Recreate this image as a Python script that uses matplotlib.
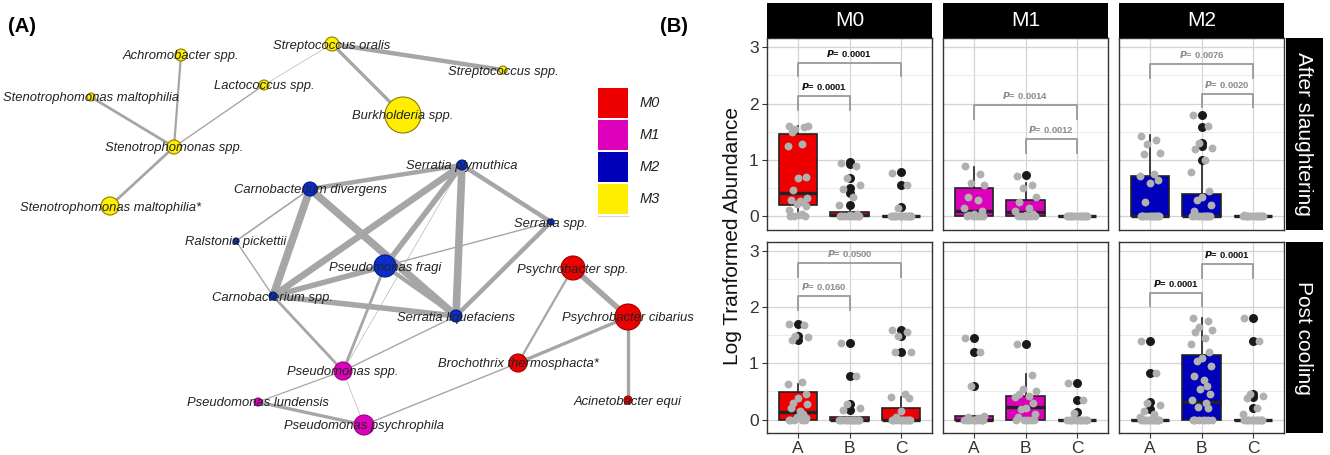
import matplotlib
matplotlib.use("Agg")
import matplotlib.pyplot as plt
from matplotlib.patches import Circle, Rectangle

plt.rcParams['font.family'] = ['Liberation Sans', 'DejaVu Sans']

# ---------------- (A) network data ----------------
node_names = ["Achromobacter spp.", "Streptococcus oralis", "Streptococcus spp.",
              "Lactococcus spp.", "Stenotrophomonas maltophilia", "Burkholderia spp.",
              "Stenotrophomonas spp.", "Stenotrophomonas maltophilia*",
              "Serratia plymuthica", "Carnobacterium divergens", "Serratia spp.",
              "Ralstonia pickettii", "Pseudomonas fragi", "Carnobacterium spp.",
              "Serratia liquefaciens",
              "Pseudomonas spp.", "Pseudomonas lundensis", "Pseudomonas psychrophila",
              "Psychrobacter spp.", "Psychrobacter cibarius", "Brochothrix thermosphacta*",
              "Acinetobacter equi"]
node_x = [181, 332, 503, 264, 91, 403, 174, 110,
          462, 310, 551, 236, 385, 273, 456,
          343, 258, 364,
          573, 628, 518, 628]
node_y = [55, 44, 70, 85, 97, 115, 147, 206,
          165, 189, 222, 241, 266, 296, 316,
          371, 402, 425,
          268, 317, 363, 400]
node_r = [6, 7, 4, 5, 4, 18, 7, 9,
          5, 7, 3, 3, 11, 4, 6,
          9, 4, 10,
          12, 13, 9, 4]
node_mod = ["M3", "M3", "M3", "M3", "M3", "M3", "M3", "M3",
            "M2", "M2", "M2", "M2", "M2", "M2", "M2",
            "M1", "M1", "M1",
            "M0", "M0", "M0", "M0"]

edge_a = ["Achromobacter spp.", "Stenotrophomonas maltophilia", "Lactococcus spp.",
          "Lactococcus spp.", "Stenotrophomonas spp.", "Streptococcus oralis",
          "Streptococcus oralis",
          "Carnobacterium divergens", "Carnobacterium divergens", "Carnobacterium divergens",
          "Carnobacterium divergens", "Serratia plymuthica", "Serratia plymuthica",
          "Serratia plymuthica", "Serratia plymuthica", "Serratia plymuthica",
          "Serratia spp.", "Serratia spp.", "Ralstonia pickettii",
          "Carnobacterium spp.", "Carnobacterium spp.", "Carnobacterium spp.",
          "Pseudomonas fragi", "Pseudomonas fragi", "Serratia liquefaciens",
          "Pseudomonas spp.", "Pseudomonas spp.", "Pseudomonas lundensis",
          "Pseudomonas psychrophila", "Brochothrix thermosphacta*",
          "Brochothrix thermosphacta*", "Psychrobacter spp.", "Psychrobacter cibarius"]
edge_b = ["Stenotrophomonas spp.", "Stenotrophomonas spp.", "Stenotrophomonas spp.",
          "Streptococcus oralis", "Stenotrophomonas maltophilia*", "Streptococcus spp.",
          "Burkholderia spp.",
          "Serratia plymuthica", "Carnobacterium spp.", "Serratia liquefaciens",
          "Ralstonia pickettii", "Carnobacterium spp.", "Pseudomonas fragi",
          "Serratia liquefaciens", "Serratia spp.", "Pseudomonas spp.",
          "Serratia liquefaciens", "Pseudomonas fragi", "Carnobacterium spp.",
          "Pseudomonas fragi", "Serratia liquefaciens", "Pseudomonas spp.",
          "Pseudomonas spp.", "Serratia liquefaciens", "Pseudomonas spp.",
          "Pseudomonas lundensis", "Pseudomonas psychrophila", "Pseudomonas psychrophila",
          "Brochothrix thermosphacta*", "Psychrobacter spp.",
          "Psychrobacter cibarius", "Psychrobacter cibarius", "Acinetobacter equi"]
edge_w = [1.6, 2.0, 1.0,
          0.4, 2.0, 3.2,
          2.4,
          3.2, 5.5, 5.5,
          1.2, 4.8, 4.0,
          5.5, 3.2, 0.4,
          3.2, 1.0, 1.0,
          4.0, 4.0, 2.0,
          2.0, 3.0, 1.0,
          0.9, 0.4, 2.4,
          1.0, 1.6,
          2.4, 4.0, 2.4]

modules = ["M0", "M1", "M2", "M3"]
mod_colors = {"M0": "#ee0000", "M1": "#dd00bb", "M2": "#0a2ecc", "M3": "#ffee00"}
mod_edges = {"M0": "#990000", "M1": "#990080", "M2": "#001a80", "M3": "#8a7d00"}
legend_colors = {"M0": "#ee0000", "M1": "#dd00bb", "M2": "#0000b8", "M3": "#ffee00"}

# ---------------- (B) boxplot data ----------------
facets = ["M0", "M1", "M2"]
row_labels = ["After slaughtering", "Post cooling"]
groups = ["A", "B", "C"]
box_colors = {"M0": "#ee0000", "M1": "#dd00bb", "M2": "#0000bb"}

# box stats per group: (q1, median, q3, whisker low, whisker high)
as_m0_box = [(0.21, 0.41, 1.46, 0.05, 1.60), (0.0, 0.03, 0.08, 0.0, 0.12), (0, 0, 0, 0, 0)]
as_m0_out = [[], [0.97, 0.93, 0.68, 0.50, 0.42, 0.20], [0.78, 0.55, 0.17]]
as_m0_pts = [[1.60, 1.58, 1.55, 1.60, 1.50, 1.28, 1.25, 0.70, 0.68, 0.47, 0.32, 0.30,
              0.28, 0.26, 0.22, 0.18, 0.12, 0.05, 0.0, 0.0, 0.0, 0.02],
             [0.95, 0.90, 0.68, 0.55, 0.48, 0.35, 0.20, 0.05, 0.02, 0.0, 0.0, 0.0,
              0.0, 0.0, 0.0, 0.0, 0.0],
             [0.77, 0.55, 0.15, 0.0, 0.0, 0.0, 0.0, 0.0, 0.0, 0.0, 0.0, 0.0, 0.0, 0.0,
              0.0, 0.0, 0.0]]

as_m1_box = [(0.0, 0.10, 0.51, 0.0, 0.88), (0.0, 0.07, 0.30, 0.0, 0.60), (0, 0, 0, 0, 0)]
as_m1_out = [[], [0.73], []]
as_m1_pts = [[0.90, 0.75, 0.60, 0.55, 0.35, 0.30, 0.15, 0.10, 0.05, 0.02, 0.0, 0.0,
              0.0, 0.0, 0.0],
             [0.72, 0.55, 0.50, 0.35, 0.25, 0.15, 0.10, 0.05, 0.02, 0.0, 0.0, 0.0,
              0.0, 0.0, 0.0],
             [0.0, 0.0, 0.0, 0.0, 0.0, 0.0, 0.0, 0.0, 0.0, 0.0, 0.0, 0.0, 0.0, 0.0]]

as_m2_box = [(0.0, 0.0, 0.72, 0.0, 1.45), (0.0, 0.0, 0.39, 0.0, 0.95), (0, 0, 0, 0, 0)]
as_m2_out = [[], [1.80, 1.58, 1.30, 1.25, 1.00], []]
as_m2_pts = [[1.43, 1.35, 1.28, 1.12, 1.10, 0.75, 0.72, 0.65, 0.60, 0.25, 0.0, 0.0,
              0.0, 0.0, 0.0, 0.0, 0.0, 0.0, 0.0, 0.0, 0.0, 0.0],
             [1.80, 1.60, 1.30, 1.22, 1.20, 1.00, 0.78, 0.45, 0.35, 0.30, 0.20, 0.10,
              0.0, 0.0, 0.0, 0.0, 0.0, 0.0, 0.0, 0.0, 0.0, 0.0],
             [0.03, 0.0, 0.0, 0.0, 0.0, 0.0, 0.0, 0.0, 0.0, 0.0, 0.0, 0.0, 0.0, 0.0]]

pc_m0_box = [(0.0, 0.13, 0.49, 0.0, 0.63), (0.0, 0.0, 0.05, 0.0, 0.05), (0.0, 0.0, 0.20, 0.0, 0.40)]
pc_m0_out = [[1.70, 1.48, 1.42], [1.37, 0.77, 0.28, 0.17], [1.60, 1.48, 1.20]]
pc_m0_pts = [[1.70, 1.68, 1.48, 1.47, 1.42, 0.67, 0.63, 0.45, 0.38, 0.30, 0.28, 0.20,
              0.15, 0.10, 0.05, 0.03, 0.0, 0.0, 0.0, 0.0, 0.0],
             [1.37, 0.77, 0.27, 0.20, 0.17, 0.0, 0.0, 0.0, 0.0, 0.0, 0.0, 0.0, 0.0,
              0.0, 0.0, 0.0, 0.0, 0.0, 0.0],
             [1.60, 1.55, 1.48, 1.20, 1.20, 0.45, 0.40, 0.38, 0.15, 0.05, 0.0, 0.0,
              0.0, 0.0, 0.0, 0.0, 0.0, 0.0, 0.0, 0.0, 0.0, 0.0]]

pc_m1_box = [(0.0, 0.0, 0.06, 0.0, 0.07), (0.0, 0.22, 0.41, 0.0, 0.81), (0, 0, 0, 0, 0)]
pc_m1_out = [[1.45, 1.21, 0.59], [1.35], [0.65, 0.34, 0.13]]
pc_m1_pts = [[1.45, 1.20, 0.60, 0.07, 0.05, 0.03, 0.0, 0.0, 0.0, 0.0, 0.0, 0.0, 0.0,
              0.0, 0.0, 0.0],
             [1.35, 0.80, 0.55, 0.50, 0.45, 0.42, 0.40, 0.30, 0.20, 0.18, 0.10, 0.05,
              0.0, 0.0, 0.0, 0.0, 0.0],
             [0.65, 0.35, 0.12, 0.0, 0.0, 0.0, 0.0, 0.0, 0.0, 0.0, 0.0, 0.0, 0.0, 0.0,
              0.0]]

pc_m2_box = [(0, 0, 0, 0, 0), (0.0, 0.31, 1.14, 0.0, 1.80), (0, 0, 0, 0, 0)]
pc_m2_out = [[1.40, 0.83, 0.31, 0.18], [], [1.80, 1.40, 0.45, 0.40, 0.20]]
pc_m2_pts = [[1.40, 0.83, 0.30, 0.25, 0.15, 0.10, 0.05, 0.0, 0.0, 0.0, 0.0, 0.0, 0.0,
              0.0, 0.0, 0.0, 0.0, 0.0, 0.0],
             [1.80, 1.75, 1.65, 1.60, 1.55, 1.45, 1.35, 1.20, 1.10, 1.05, 0.95, 0.78,
              0.70, 0.60, 0.55, 0.45, 0.35, 0.30, 0.22, 0.20, 0.0, 0.0, 0.0, 0.0, 0.0,
              0.0, 0.0, 0.0],
             [1.80, 1.40, 0.45, 0.42, 0.38, 0.20, 0.10, 0.0, 0.0, 0.0, 0.0, 0.0, 0.0,
              0.0, 0.0, 0.0, 0.0, 0.0, 0.0]]

# p-value brackets: (group 1, group 2, bracket height, p, significant)
as_m0_pv = [("A", "B", 2.13, "0.0001", True), ("A", "C", 2.72, "0.0001", True)]
as_m1_pv = [("A", "C", 1.97, "0.0014", False), ("B", "C", 1.37, "0.0012", False)]
as_m2_pv = [("A", "C", 2.70, "0.0076", False), ("B", "C", 2.17, "0.0020", False)]
pc_m0_pv = [("A", "B", 2.19, "0.0160", False), ("A", "C", 2.78, "0.0500", False)]
pc_m1_pv = []
pc_m2_pv = [("A", "B", 2.26, "0.0001", True), ("B", "C", 2.76, "0.0001", True)]

panel_box = [[as_m0_box, as_m1_box, as_m2_box], [pc_m0_box, pc_m1_box, pc_m2_box]]
panel_out = [[as_m0_out, as_m1_out, as_m2_out], [pc_m0_out, pc_m1_out, pc_m2_out]]
panel_pts = [[as_m0_pts, as_m1_pts, as_m2_pts], [pc_m0_pts, pc_m1_pts, pc_m2_pts]]
panel_pv = [[as_m0_pv, as_m1_pv, as_m2_pv], [pc_m0_pv, pc_m1_pv, pc_m2_pv]]

# fixed jitter pattern for the grey points
jit = [-0.17, 0.12, -0.05, 0.20, -0.12, 0.07, -0.20, 0.15, 0.0, -0.09, 0.18, -0.14,
       0.04, 0.10, -0.02, 0.16, -0.18, 0.08, -0.07, 0.13, -0.15, 0.02]

W, H = 1330, 455
fig = plt.figure(figsize=(W / 100, H / 100), dpi=100)


def frect(x0, y0, x1, y1):
    return [x0 / W, 1 - y1 / H, (x1 - x0) / W, (y1 - y0) / H]


# ---------------- (A) ----------------
axA = fig.add_axes([0, 0, 660 / W, 1])
axA.set_xlim(0, 660)
axA.set_ylim(455, 0)
axA.axis('off')

pos = {n: (x, y) for n, x, y in zip(node_names, node_x, node_y)}
for a, b, w in zip(edge_a, edge_b, edge_w):
    (x1, y1), (x2, y2) = pos[a], pos[b]
    axA.plot([x1, x2], [y1, y2], color='#a6a6a6', lw=w, solid_capstyle='butt', zorder=1)
for n, x, y, r, m in zip(node_names, node_x, node_y, node_r, node_mod):
    axA.add_patch(Circle((x, y), r, fc=mod_colors[m], ec=mod_edges[m], lw=0.8, zorder=2))
    axA.text(x, y + 1.5, n, style='italic', fontsize=9.4, color='#222222',
             ha='center', va='center', zorder=3)

for i, m in enumerate(modules):
    y0 = 88 + i * 32
    axA.add_patch(Rectangle((598, y0), 30, 30, fc=legend_colors[m], ec='none', zorder=2))
    axA.text(640, y0 + 15, m, style='italic', fontsize=10.5, color='#222222',
             ha='left', va='center')
axA.plot([598, 628], [216, 216], color='#e0d0d8', lw=0.8)

fig.text(8 / W, 1 - 26 / H, "(A)", fontsize=14.5, fontweight='bold', va='center')
fig.text(660 / W, 1 - 26 / H, "(B)", fontsize=14.5, fontweight='bold', va='center')

# ---------------- (B) ----------------
col_x = [(767, 932), (943, 1108), (1119, 1284)]
row_y = [(38, 230), (242, 433)]

for r in range(2):
    for c in range(3):
        f = facets[c]
        ax = fig.add_axes(frect(col_x[c][0], row_y[r][0], col_x[c][1], row_y[r][1]))
        stats = []
        for g, (q1, med, q3, lo, hi) in zip(groups, panel_box[r][c]):
            stats.append(dict(label=g, q1=q1, med=med, q3=q3, whislo=lo, whishi=hi, fliers=[]))
        ax.bxp(stats, positions=[0, 1, 2], widths=0.75, patch_artist=True,
               showfliers=False, showcaps=False,
               boxprops=dict(facecolor=box_colors[f], edgecolor='#222222', lw=1.2),
               medianprops=dict(color='#222222', lw=2.4, solid_capstyle='butt'),
               whiskerprops=dict(color='#222222', lw=1.2), zorder=2)
        for i in range(3):
            out = panel_out[r][c][i]
            ax.scatter([i] * len(out), out, s=42, color='#1a1a1a', lw=0, zorder=3)
            pts = panel_pts[r][c][i]
            xs = [i + jit[k % len(jit)] for k in range(len(pts))]
            ax.scatter(xs, pts, s=32, color='#b0b0b0', lw=0, zorder=4)
        for g1, g2, yb, p, sig in panel_pv[r][c]:
            x1, x2 = groups.index(g1), groups.index(g2)
            ax.plot([x1, x1, x2, x2], [yb - 0.24, yb, yb, yb - 0.24], color='#999999',
                    lw=1.3, zorder=5)
            ax.text((x1 + x2) / 2, yb + 0.17, r"$\mathbfit{P}$= " + p, fontsize=6.8,
                    fontweight='bold', color='#111111' if sig else '#8c8c8c',
                    ha='center', va='center', zorder=5)
        ax.set_xlim(-0.6, 2.6)
        ax.set_ylim(-0.24, 3.16)
        ax.set_xticks([0, 1, 2])
        ax.set_xticklabels(groups)
        ax.set_yticks([0, 1, 2, 3])
        ax.set_yticks([0.5, 1.5, 2.5], minor=True)
        ax.grid(which='major', color='#d4d4d4', lw=0.9)
        ax.grid(which='minor', axis='y', color='#e6e6e6', lw=0.6)
        ax.set_axisbelow(True)
        for s in ax.spines.values():
            s.set_color('#333333')
            s.set_linewidth(1.0)
        ax.tick_params(which='minor', left=False, bottom=False)
        ax.tick_params(which='major', labelsize=12.5, labelcolor='#333333', color='#333333',
                       length=3.5, width=0.8, pad=2.5)
        if c > 0:
            ax.tick_params(which='major', left=False, labelleft=False)
        if r == 0:
            ax.tick_params(which='major', bottom=False, labelbottom=False)

# strips
for c in range(3):
    x0, x1 = col_x[c]
    fig.add_artist(Rectangle((x0 / W, 1 - 38 / H), (x1 - x0) / W, 35 / H,
                             transform=fig.transFigure, fc='black', ec='none'))
    fig.text((x0 + x1) / 2 / W, 1 - 21 / H, facets[c], color='white', fontsize=15,
             ha='center', va='center')
for r in range(2):
    y0, y1 = row_y[r]
    fig.add_artist(Rectangle((1286 / W, 1 - y1 / H), 37 / W, (y1 - y0) / H,
                             transform=fig.transFigure, fc='black', ec='none'))
    fig.text(1304 / W, 1 - (y0 + y1) / 2 / H, row_labels[r], color='white', fontsize=15,
             rotation=-90, ha='center', va='center')

fig.text(733 / W, 1 - 236 / H, "Log Tranformed Abundance", fontsize=15, rotation=90,
         ha='center', va='center', color='#111111')

fig.savefig("out.png", dpi=100)
